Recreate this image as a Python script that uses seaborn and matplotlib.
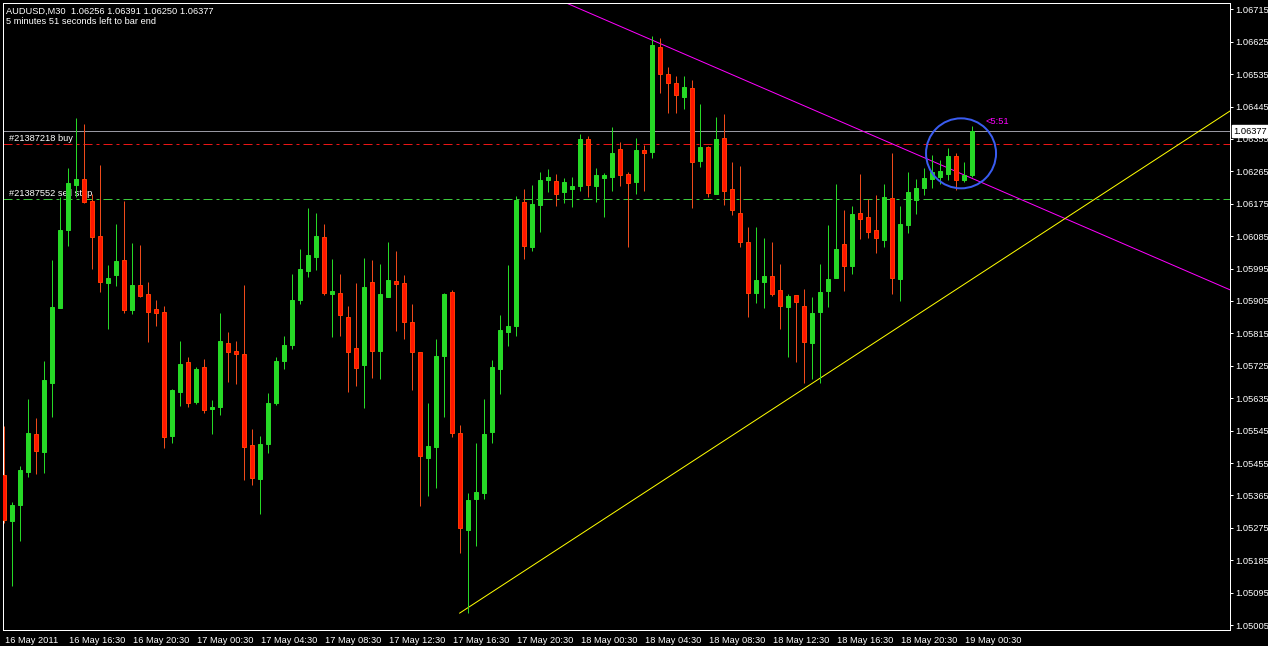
import matplotlib
matplotlib.use("Agg")
import matplotlib.pyplot as plt
import matplotlib.transforms as mtransforms
from matplotlib.patches import Ellipse
import numpy as np
import seaborn as sns

# ---------------- data (AUDUSD M30, from 16 May 2011 12:30, one bar each 30 min) ----------------
opens = [1.05422, 1.05295, 1.05339, 1.05431, 1.05535, 1.05486, 1.05678, 1.05886, 1.06103, 1.06228,
         1.06243, 1.06183, 1.06085, 1.05956, 1.05977, 1.06019, 1.05881, 1.05949, 1.05924, 1.05883,
         1.05874, 1.05531, 1.05653, 1.05735, 1.05625, 1.05721, 1.05605, 1.05611, 1.05788, 1.05766,
         1.05758, 1.05505, 1.05411, 1.05508, 1.05622, 1.05739, 1.05783, 1.05908, 1.05989, 1.06028,
         1.06083, 1.05925, 1.05926, 1.05860, 1.05774, 1.05727, 1.05957, 1.05767, 1.05917, 1.05960,
         1.05955, 1.05846, 1.05762, 1.05470, 1.05500, 1.05753, 1.05930, 1.05538, 1.05269, 1.05356,
         1.05373, 1.05542, 1.05717, 1.05820, 1.05836, 1.06180, 1.06056, 1.06172, 1.06241, 1.06238,
         1.06208, 1.06217, 1.06224, 1.06355, 1.06224, 1.06246, 1.06249, 1.06327, 1.06258, 1.06236,
         1.06324, 1.06320, 1.06609, 1.06534, 1.06509, 1.06472, 1.06496, 1.06295, 1.06332, 1.06203,
         1.06357, 1.06215, 1.06149, 1.06068, 1.05928, 1.05958, 1.05974, 1.05935, 1.05889, 1.05921,
         1.05891, 1.05789, 1.05875, 1.05934, 1.05970, 1.06063, 1.06003, 1.06149, 1.06138, 1.06102,
         1.06074, 1.06191, 1.05967, 1.06117, 1.06186, 1.06220, 1.06245, 1.06249, 1.06258, 1.06308,
         1.06241, 1.06256]
highs = [1.05558, 1.05346, 1.05447, 1.05633, 1.05580, 1.05738, 1.06019, 1.06193, 1.06274, 1.06413,
         1.06396, 1.06202, 1.06283, 1.06005, 1.06119, 1.06183, 1.06066, 1.06060, 1.05958, 1.05908,
         1.05891, 1.05660, 1.05794, 1.05749, 1.05722, 1.05744, 1.05630, 1.05871, 1.05819, 1.05794,
         1.05949, 1.05549, 1.05530, 1.05649, 1.05749, 1.05808, 1.05980, 1.06049, 1.06163, 1.06148,
         1.06119, 1.06021, 1.05980, 1.05891, 1.05956, 1.06024, 1.06019, 1.06008, 1.06068, 1.06044,
         1.05977, 1.05897, 1.05764, 1.05622, 1.05799, 1.05927, 1.05935, 1.05561, 1.05371, 1.05511,
         1.05633, 1.05741, 1.05866, 1.06006, 1.06197, 1.06216, 1.06227, 1.06263, 1.06272, 1.06258,
         1.06246, 1.06249, 1.06370, 1.06364, 1.06274, 1.06260, 1.06389, 1.06346, 1.06264, 1.06358,
         1.06337, 1.06641, 1.06634, 1.06554, 1.06531, 1.06530, 1.06519, 1.06452, 1.06334, 1.06415,
         1.06424, 1.06291, 1.06280, 1.06110, 1.06110, 1.06079, 1.06070, 1.06008, 1.05924, 1.05922,
         1.05938, 1.05917, 1.06007, 1.06116, 1.06230, 1.06158, 1.06169, 1.06258, 1.06188, 1.06199,
         1.06230, 1.06316, 1.06169, 1.06263, 1.06244, 1.06274, 1.06310, 1.06296, 1.06329, 1.06317,
         1.06292, 1.06391]
lows = [1.05288, 1.05114, 1.05239, 1.05415, 1.05425, 1.05428, 1.05584, 1.05885, 1.06058, 1.06194,
        1.06178, 1.05995, 1.05931, 1.05827, 1.05947, 1.05872, 1.05869, 1.05916, 1.05792, 1.05836,
        1.05498, 1.05511, 1.05614, 1.05611, 1.05619, 1.05595, 1.05536, 1.05588, 1.05680, 1.05675,
        1.05408, 1.05395, 1.05314, 1.05483, 1.05616, 1.05716, 1.05772, 1.05897, 1.05972, 1.05991,
        1.05922, 1.05806, 1.05809, 1.05653, 1.05670, 1.05609, 1.05692, 1.05688, 1.05915, 1.05822,
        1.05799, 1.05658, 1.05336, 1.05364, 1.05386, 1.05584, 1.05528, 1.05204, 1.05038, 1.05225,
        1.05354, 1.05511, 1.05648, 1.05781, 1.05809, 1.06022, 1.06045, 1.06097, 1.06208, 1.06169,
        1.06178, 1.06167, 1.06211, 1.06194, 1.06181, 1.06139, 1.06211, 1.06224, 1.06056, 1.06203,
        1.06211, 1.06301, 1.06482, 1.06428, 1.06428, 1.06438, 1.06164, 1.06278, 1.06195, 1.06202,
        1.06172, 1.06144, 1.06056, 1.05860, 1.05900, 1.05886, 1.05920, 1.05827, 1.05750, 1.05736,
        1.05678, 1.05689, 1.05678, 1.05889, 1.05969, 1.05934, 1.05981, 1.06078, 1.06081, 1.06039,
        1.06056, 1.05925, 1.05906, 1.06095, 1.06147, 1.06200, 1.06220, 1.06230, 1.06241, 1.06213,
        1.06236, 1.06250]
closes = [1.05297, 1.05338, 1.05436, 1.05538, 1.05489, 1.05686, 1.05888, 1.06102, 1.06233, 1.06244,
          1.06181, 1.06083, 1.05958, 1.05969, 1.06016, 1.05881, 1.05949, 1.05920, 1.05875, 1.05872,
          1.05528, 1.05658, 1.05730, 1.05623, 1.05716, 1.05603, 1.05611, 1.05794, 1.05764, 1.05759,
          1.05500, 1.05414, 1.05508, 1.05621, 1.05738, 1.05783, 1.05908, 1.05994, 1.06033, 1.06085,
          1.05928, 1.05933, 1.05867, 1.05764, 1.05720, 1.05944, 1.05767, 1.05924, 1.05962, 1.05953,
          1.05847, 1.05764, 1.05475, 1.05502, 1.05752, 1.05924, 1.05539, 1.05274, 1.05352, 1.05375,
          1.05536, 1.05722, 1.05824, 1.05836, 1.06185, 1.06059, 1.06174, 1.06241, 1.06249, 1.06203,
          1.06235, 1.06224, 1.06355, 1.06227, 1.06255, 1.06255, 1.06317, 1.06256, 1.06233, 1.06324,
          1.06317, 1.06616, 1.06534, 1.06509, 1.06476, 1.06498, 1.06292, 1.06333, 1.06204, 1.06355,
          1.06211, 1.06157, 1.06068, 1.05928, 1.05963, 1.05974, 1.05925, 1.05892, 1.05919, 1.05901,
          1.05792, 1.05871, 1.05929, 1.05966, 1.06049, 1.06003, 1.06147, 1.06133, 1.06097, 1.06079,
          1.06194, 1.05970, 1.06119, 1.06208, 1.06219, 1.06246, 1.06263, 1.06266, 1.06308, 1.06241,
          1.06256, 1.06377]

time_tick_bars = [0, 8, 16, 24, 32, 40, 48, 56, 64, 72, 80, 88, 96, 104, 112, 120]
time_tick_labels = ["16 May 2011", "16 May 16:30", "16 May 20:30", "17 May 00:30", "17 May 04:30",
                    "17 May 08:30", "17 May 12:30", "17 May 16:30", "17 May 20:30", "18 May 00:30",
                    "18 May 04:30", "18 May 08:30", "18 May 12:30", "18 May 16:30", "18 May 20:30",
                    "19 May 00:30"]
price_ticks = [1.06715, 1.06625, 1.06535, 1.06445, 1.06355, 1.06265, 1.06175, 1.06085, 1.05995,
               1.05905, 1.05815, 1.05725, 1.05635, 1.05545, 1.05455, 1.05365, 1.05275, 1.05185,
               1.05095, 1.05005]

bid_price = 1.06377
buy_order_price = 1.06341
sellstop_order_price = 1.06189
buy_label = "#21387218 buy"
sellstop_label = "#21387552 sell stop"
header_line1 = "AUDUSD,M30  1.06256 1.06391 1.06250 1.06377"
header_line2 = "5 minutes 51 seconds left to bar end"
timer_text = "<5:51"

# trend lines: (bar index, price) anchors
magenta_bars = [79.56, 122.06]
magenta_prices = [1.06644, 1.06236]
yellow_bars = [57.0, 134.35]
yellow_prices = [1.05038, 1.06158]

# ---------------- styling ----------------
sns.set_theme(style="dark", rc={
    "figure.facecolor": "black",
    "axes.facecolor": "black",
    "axes.edgecolor": "white",
    "axes.grid": False,
    "text.color": "white",
    "xtick.color": "white",
    "ytick.color": "white",
})
plt.rcParams["font.family"] = ["Liberation Sans", "DejaVu Sans"]
FS = 6.7
PX = 0.72  # one pixel in points at 100 dpi

W, H = 1268, 646
fig = plt.figure(figsize=(W / 100, H / 100), dpi=100)
left, right, top, bottom = 3, 1230, 3, 630
ax = fig.add_axes([left / W, (H - bottom) / H, (right - left) / W, (bottom - top) / H])
ax.set_facecolor("black")

x = np.arange(len(opens))
o = np.array(opens); h = np.array(highs); l = np.array(lows); c = np.array(closes)
bull = c >= o

ax.set_xlim(-0.0625, 153.31)
ax.set_ylim(1.049913, 1.067325)

# horizontal lines
ax.axhline(bid_price, color="#9898a2", lw=PX, zorder=1)
ax.axhline(buy_order_price, color="#e81616", lw=PX, dashes=(9, 4, 3, 4), zorder=1)
ax.axhline(sellstop_order_price, color="#3cc83c", lw=PX, dashes=(9, 4, 3, 4), zorder=1)

# trend lines
ms = (magenta_prices[1] - magenta_prices[0]) / (magenta_bars[1] - magenta_bars[0])
mx = np.array([60.0, 160.0])
my = magenta_prices[0] + (mx - magenta_bars[0]) * ms
sns.lineplot(x=mx, y=my, ax=ax, color="#ff00ff", lw=PX, legend=False, estimator=None, sort=False, zorder=1)
ys = (yellow_prices[1] - yellow_prices[0]) / (yellow_bars[1] - yellow_bars[0])
yx = np.array([yellow_bars[0], 160.0])
yy = yellow_prices[0] + (yx - yellow_bars[0]) * ys
sns.lineplot(x=yx, y=yy, ax=ax, color="#ffff00", lw=PX, legend=False, estimator=None, sort=False, zorder=1)

# order labels (under candles)
ax.text(0.67, buy_order_price, buy_label, fontsize=FS, color="white", ha="left",
        va="baseline", zorder=2,
        transform=ax.transData + mtransforms.ScaledTranslation(0, 3.0 / 100, fig.dpi_scale_trans),
        bbox=dict(facecolor="black", edgecolor="none", pad=0.3))
ax.text(0.67, sellstop_order_price, sellstop_label, fontsize=FS, color="white", ha="left",
        va="baseline", zorder=2,
        transform=ax.transData + mtransforms.ScaledTranslation(0, 3.0 / 100, fig.dpi_scale_trans))

# candles
wick_col = np.where(bull, "#26d926", "#ee4a1a")
fill_col = np.where(bull, "#26d926", "#ff1600")
edge_col = np.where(bull, "#26d926", "#ff3a00")
ax.vlines(x, l, h, colors=wick_col, lw=PX, zorder=3)
body_low = np.minimum(o, c)
body_h = np.maximum(np.abs(c - o), 1e-6)
ax.bar(x, body_h, bottom=body_low, width=0.5, color=fill_col, edgecolor=edge_col,
       linewidth=PX, zorder=4)

# circle and timer
ax.add_patch(Ellipse((119.69, 1.06315), width=8.75, height=0.001944, fill=False,
                     edgecolor="#3a5cf0", lw=2 * PX, zorder=5))
ax.text(122.7, 1.06397, timer_text, color="#ff00ff", fontsize=FS, ha="left", va="baseline", zorder=5)

# axes
for s in ax.spines.values():
    s.set_color("white")
    s.set_linewidth(PX)
ax.yaxis.tick_right()
ax.set_yticks(price_ticks)
ax.set_yticklabels([f"{v:.5f}" for v in price_ticks])
ax.tick_params(axis="y", direction="out", length=2.5, width=PX, colors="white",
               labelsize=FS, pad=1.5)
ax.set_xticks(time_tick_bars)
ax.set_xticklabels(time_tick_labels, ha="left")
ax.tick_params(axis="x", direction="out", length=3, width=PX, colors="white",
               labelsize=FS, pad=1.5)
for lab in ax.get_xticklabels():
    lab.set_transform(lab.get_transform() + mtransforms.ScaledTranslation(1.5 / 100, 0, fig.dpi_scale_trans))
ax.set_xlabel(""); ax.set_ylabel("")

# bid price box on price scale
ax.text(1.0025, bid_price, f"{bid_price:.5f}", color="black", fontsize=FS, ha="left", va="center",
        transform=mtransforms.blended_transform_factory(ax.transAxes, ax.transData),
        clip_on=False, zorder=10,
        bbox=dict(facecolor="white", edgecolor="white", boxstyle="square,pad=0.15"))

# header text
fig.text(6 / W, 1 - 14 / H, header_line1, fontsize=FS, color="white", ha="left", va="baseline")
fig.text(6 / W, 1 - 24.5 / H, header_line2, fontsize=FS, color="white", ha="left", va="baseline")

fig.savefig("out.png", dpi=100, facecolor="black")
